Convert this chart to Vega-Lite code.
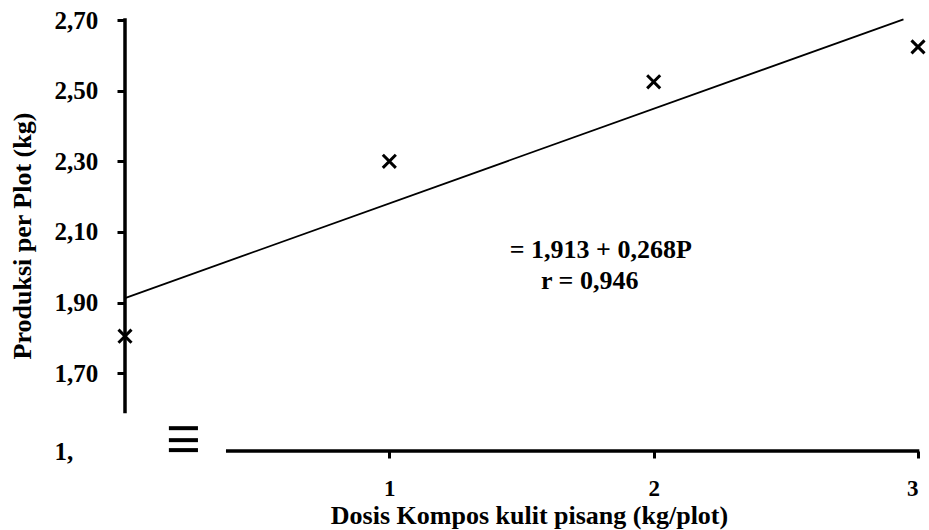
{
  "$schema": "https://vega.github.io/schema/vega-lite/v6.json",
  "width": 793,
  "height": 431,
  "autosize": {"type": "none"},
  "padding": {"left": 125, "top": 20, "right": 11, "bottom": 79},
  "background": "white",
  "config": {
    "view": {"stroke": null},
    "font": "Liberation Serif",
    "axis": {"grid": false, "domain": false, "labelFont": "Liberation Serif", "titleFont": "Liberation Serif", "labelFontWeight": "bold", "titleFontWeight": "bold", "labelColor": "black", "titleColor": "black", "tickColor": "black"}
  },
  "datasets": {
    "obs": [
      {"dosis": 0, "produksi": 1.805},
      {"dosis": 1, "produksi": 2.30},
      {"dosis": 2, "produksi": 2.525},
      {"dosis": 3, "produksi": 2.624}
    ],
    "fit": [
      {"dosis": 0, "produksi": 1.913},
      {"dosis": 2.945, "produksi": 2.702}
    ],
    "yaxis": [{"x": 0, "y": 1.587, "y2": 2.705}],
    "xaxis": [{"x": 0.382, "x2": 3.005, "y": 1.48}],
    "brk": [
      {"x": 0.166, "x2": 0.276, "y": 1.5446},
      {"x": 0.166, "x2": 0.276, "y": 1.5107},
      {"x": 0.166, "x2": 0.276, "y": 1.4825}
    ],
    "notes": [
      {"x": 1.80, "y": 2.050, "label": "= 1,913 + 0,268P"},
      {"x": 1.758, "y": 1.960, "label": "r = 0,946"}
    ]
  },
  "layer": [
    {
      "data": {"name": "fit"},
      "mark": {"type": "line", "color": "black", "strokeWidth": 1.8},
      "encoding": {
        "x": {"field": "dosis", "type": "quantitative", "scale": {"domain": [0, 3], "nice": false, "zero": false},
          "axis": {"values": [1, 2, 3], "format": "d", "title": "Dosis Kompos kulit pisang (kg/plot)", "labelFontSize": 23, "titleFontSize": 26, "tickSize": 7, "tickWidth": 3, "labelPadding": 19, "titlePadding": 2, "titleX": 404}},
        "y": {"field": "produksi", "type": "quantitative", "scale": {"domain": [1.48, 2.70], "nice": false, "zero": false},
          "axis": {"values": [1.48, 1.7, 1.9, 2.1, 2.3, 2.5, 2.7], "title": "Produksi per Plot (kg)", "labelFontSize": 25, "titleFontSize": 26, "tickSize": 8, "tickWidth": 3,
            "tickOpacity": {"condition": {"test": "datum.value < 1.6", "value": 0}, "value": 1},
            "labelExpr": "datum.value < 1.6 ? '1,' : replace(format(datum.value, '.2f'), '.', ',')",
            "labelAlign": "left",
            "labelPadding": 63, "titlePadding": 19}}
      }
    },
    {
      "data": {"name": "obs"},
      "mark": {"type": "point", "shape": "M-1,-1L1,1M-1,1L1,-1", "filled": false, "color": "black", "strokeWidth": 3, "size": 170, "opacity": 1},
      "encoding": {
        "x": {"field": "dosis", "type": "quantitative"},
        "y": {"field": "produksi", "type": "quantitative"}
      }
    },
    {
      "data": {"name": "yaxis"},
      "mark": {"type": "rule", "color": "black", "strokeWidth": 3.5},
      "encoding": {
        "x": {"field": "x", "type": "quantitative"},
        "y": {"field": "y", "type": "quantitative"},
        "y2": {"field": "y2"}
      }
    },
    {
      "data": {"name": "xaxis"},
      "mark": {"type": "rule", "color": "black", "strokeWidth": 3.5},
      "encoding": {
        "x": {"field": "x", "type": "quantitative"},
        "x2": {"field": "x2"},
        "y": {"field": "y", "type": "quantitative"}
      }
    },
    {
      "data": {"name": "brk"},
      "mark": {"type": "rule", "color": "black", "strokeWidth": 4},
      "encoding": {
        "x": {"field": "x", "type": "quantitative"},
        "x2": {"field": "x2"},
        "y": {"field": "y", "type": "quantitative"}
      }
    },
    {
      "data": {"name": "notes"},
      "mark": {"type": "text", "font": "Liberation Serif", "fontWeight": "bold", "fontSize": 26, "color": "black", "align": "center", "baseline": "middle"},
      "encoding": {
        "x": {"field": "x", "type": "quantitative"},
        "y": {"field": "y", "type": "quantitative"},
        "text": {"field": "label"}
      }
    }
  ]
}
